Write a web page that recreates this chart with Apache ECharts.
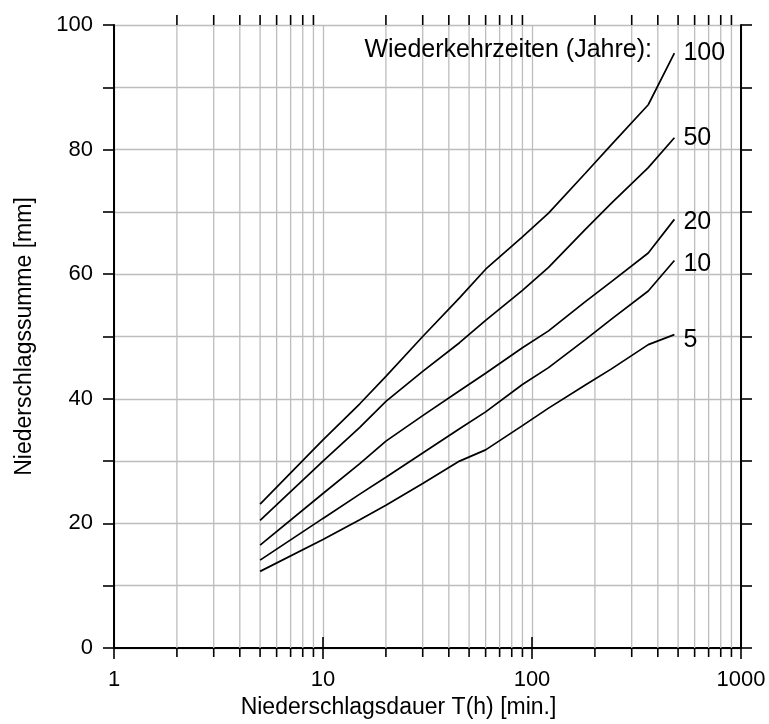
<!DOCTYPE html>
<html>
<head>
<meta charset="utf-8">
<title>Niederschlagssumme</title>
<script src="https://cdn.jsdelivr.net/npm/echarts@6/dist/echarts.min.js"></script>
<style>
  html, body { margin: 0; padding: 0; background: #fff; }
  #chart { width: 769px; height: 724px; }
</style>
</head>
<body>
<div id="chart"></div>
<script>
// Dauer in Minuten
var durations = [5, 10, 15, 20, 30, 45, 60, 90, 120, 180, 240, 360, 480]
// Niederschlagssumme [mm] je Wiederkehrzeit
var p100 = [23.1, 33.4, 39.2, 43.6, 50.0, 56.2, 60.8, 66.0, 69.8, 76.2, 80.8, 87.2, 95.5]
var p50 = [20.5, 30.0, 35.4, 39.6, 44.4, 49.0, 52.6, 57.4, 61.1, 67.2, 71.4, 77.1, 81.9]
var p20 = [16.5, 24.8, 29.6, 33.2, 37.3, 41.3, 44.1, 48.2, 50.9, 55.6, 58.8, 63.4, 68.8]
var p10 = [14.1, 20.8, 24.7, 27.4, 31.3, 35.2, 37.9, 42.3, 45.0, 49.5, 52.8, 57.3, 62.2]
var p5 = [12.3, 17.4, 20.6, 22.9, 26.4, 30.0, 31.8, 35.7, 38.5, 42.2, 44.8, 48.7, 50.3]
var returnPeriods = ['100', '50', '20', '10', '5']
var minorTicks = [2, 3, 4, 5, 6, 7, 8, 9, 20, 30, 40, 50, 60, 70, 80, 90, 200, 300, 400, 500, 600, 700, 800, 900]

var font = 'Liberation Sans, Arial, sans-serif'
var gridColor = '#bdbdbd'
var labelOffsets = {'100': [0, 0], '50': [0, 0], '20': [0, 3], '10': [0, 4], '5': [0, 5]}

function pairs(values) {
  return durations.map(function (t, i) { return [t, values[i]] })
}

function lineSeries(name, values) {
  return {
    name: name,
    type: 'line',
    data: pairs(values),
    showSymbol: false,
    smooth: false,
    silent: true,
    z: 5,
    lineStyle: { color: '#000', width: 1.7 },
    endLabel: {
      show: true,
      formatter: '{a}',
      distance: 9,
      offset: labelOffsets[name],
      color: '#000',
      fontFamily: font,
      fontSize: 25
    }
  }
}

var chart = echarts.init(document.getElementById('chart'))

var xAxisBase = {
  type: 'log',
  logBase: 10,
  min: 1,
  max: 1000,
  axisLine: { show: true, lineStyle: { color: '#000', width: 2 } },
  axisTick: { show: true, inside: false, length: 11, lineStyle: { color: '#000', width: 1.6 } },
  minorTick: { show: false },
  minorSplitLine: { show: false }
}

var yAxisBase = {
  type: 'value',
  min: 0,
  max: 100,
  interval: 10,
  axisLine: { show: true, lineStyle: { color: '#000', width: 2 } },
  axisTick: { show: true, inside: false, length: 11, lineStyle: { color: '#000', width: 1.6 } }
}

chart.setOption({
  animation: false,
  backgroundColor: '#fff',
  grid: { left: 114, right: 28, top: 25, bottom: 73, containLabel: false },
  xAxis: [
    Object.assign({}, xAxisBase, {
      position: 'bottom',
      name: 'Niederschlagsdauer T(h) [min.]',
      nameLocation: 'middle',
      nameGap: 48,
      nameTextStyle: { color: '#000', fontFamily: font, fontSize: 23, padding: [0, 58, 0, 0] },
      axisLabel: {
        color: '#000',
        fontFamily: font,
        fontSize: 22,
        margin: 21,
        formatter: function (v) { return String(Math.round(v)) }
      },
      splitLine: { show: true, lineStyle: { color: gridColor, width: 1.3 } }
    }),
    Object.assign({}, xAxisBase, {
      position: 'top',
      axisLabel: { show: false },
      splitLine: { show: false }
    })
  ],
  yAxis: [
    Object.assign({}, yAxisBase, {
      position: 'left',
      name: 'Niederschlagssumme [mm]',
      nameLocation: 'middle',
      nameGap: 78,
      nameTextStyle: { color: '#000', fontFamily: font, fontSize: 23 },
      axisLabel: {
        color: '#000',
        fontFamily: font,
        fontSize: 22,
        margin: 21,
        formatter: function (v) { return v % 20 === 0 ? String(v) : '' }
      },
      splitLine: { show: true, lineStyle: { color: gridColor, width: 1.3 } }
    }),
    Object.assign({}, yAxisBase, {
      position: 'right',
      axisLabel: { show: false },
      splitLine: { show: false }
    })
  ],
  graphic: [{
    type: 'text',
    right: 769 - 652,
    top: 38,
    style: {
      text: 'Wiederkehrzeiten (Jahre):',
      fill: '#000',
      font: '25px ' + font
    },
    z: 10
  }],
  series: [
    {
      type: 'custom',
      silent: true,
      clip: false,
      z: 1,
      data: minorTicks.map(function (t) { return [t, 0] }),
      encode: { x: 0, y: 1 },
      renderItem: function (params, api) {
        var x = api.coord([api.value(0), 0])[0]
        var top = params.coordSys.y
        var bottom = top + params.coordSys.height
        return {
          type: 'group',
          children: [
            { type: 'line', shape: { x1: x, y1: top, x2: x, y2: bottom }, style: { stroke: gridColor, lineWidth: 1.3 } },
            { type: 'line', shape: { x1: x, y1: bottom, x2: x, y2: bottom + 9 }, style: { stroke: '#000', lineWidth: 1.6 } },
            { type: 'line', shape: { x1: x, y1: top, x2: x, y2: top - 10 }, style: { stroke: '#000', lineWidth: 1.6 } }
          ]
        }
      }
    },
    lineSeries(returnPeriods[0], p100),
    lineSeries(returnPeriods[1], p50),
    lineSeries(returnPeriods[2], p20),
    lineSeries(returnPeriods[3], p10),
    lineSeries(returnPeriods[4], p5)
  ]
})
</script>
</body>
</html>
